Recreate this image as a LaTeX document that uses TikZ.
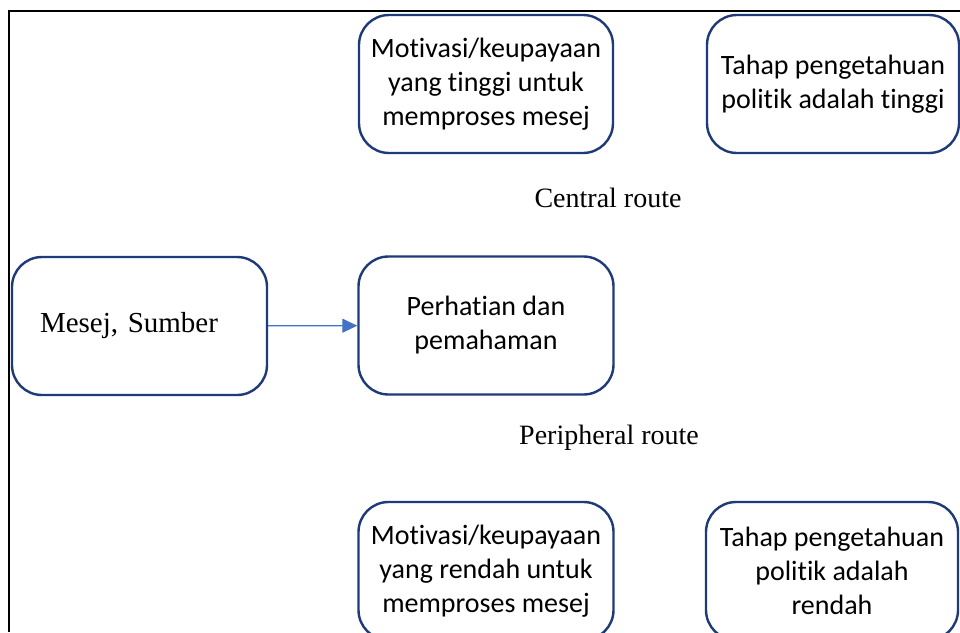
\documentclass[tikz,border=0pt]{standalone}
\usepackage{fontspec}
\setmainfont{Liberation Serif}
\newfontfamily\boxfont[Ligatures=NoCommon]{Carlito}
\usetikzlibrary{arrows.meta}
\frenchspacing
\definecolor{navy}{HTML}{1F3A78}
\definecolor{arrowblue}{HTML}{4472C4}
\tikzset{
  stage/.style={draw=navy, line width=2.4pt, rounded corners=30pt, fill=white,
    minimum height=138pt, inner sep=0pt, align=center,
    font=\boxfont\fontsize{28}{34}\selectfont},
  routelabel/.style={font=\fontsize{28}{32}\selectfont, inner sep=0pt},
  flow/.style={draw=arrowblue, line width=1.2pt, -{Triangle[length=15pt,width=14pt]}}
}
\begin{document}
\begin{tikzpicture}[x=1pt,y=-1pt]
  \clip (0,0) rectangle (960,632);
  \fill[white] (0,0) rectangle (960,632);
  % outer frame: top and left rules
  \draw[line width=2pt] (8,11) -- (960,11);
  \draw[line width=2pt] (9,10) -- (9,632);

  % upper row: central route
  \node[stage, minimum width=254pt] (motHigh) at (486,84)
    {Motivasi/keupayaan\\yang tinggi untuk\\memproses mesej};
  \node[stage, minimum width=252pt] (knowHigh) at (833,84)
    {Tahap pengetahuan\\politik adalah tinggi};
  \node[routelabel] (central) at (608,198) {Central route};

  % middle row
  \node[stage, minimum width=255pt, text width=199pt, inner xsep=28pt, align=left,
        font=\fontsize{29}{32}\selectfont] (source) at (139.5,326) {Mesej, Sumber};
  \node[stage, minimum width=255pt] (attention) at (486,325.5)
    {Perhatian dan\\pemahaman};
  \draw[flow] (source) -- (attention);

  % lower row: peripheral route
  \node[routelabel] (peripheral) at (609,438) {Peripheral route};
  \node[stage, minimum width=255pt] (motLow) at (486,571)
    {Motivasi/keupayaan\\yang rendah untuk\\memproses mesej};
  \node[stage, minimum width=252pt] (knowLow) at (832,571)
    {Tahap pengetahuan\\politik adalah\\rendah};
\end{tikzpicture}
\end{document}
